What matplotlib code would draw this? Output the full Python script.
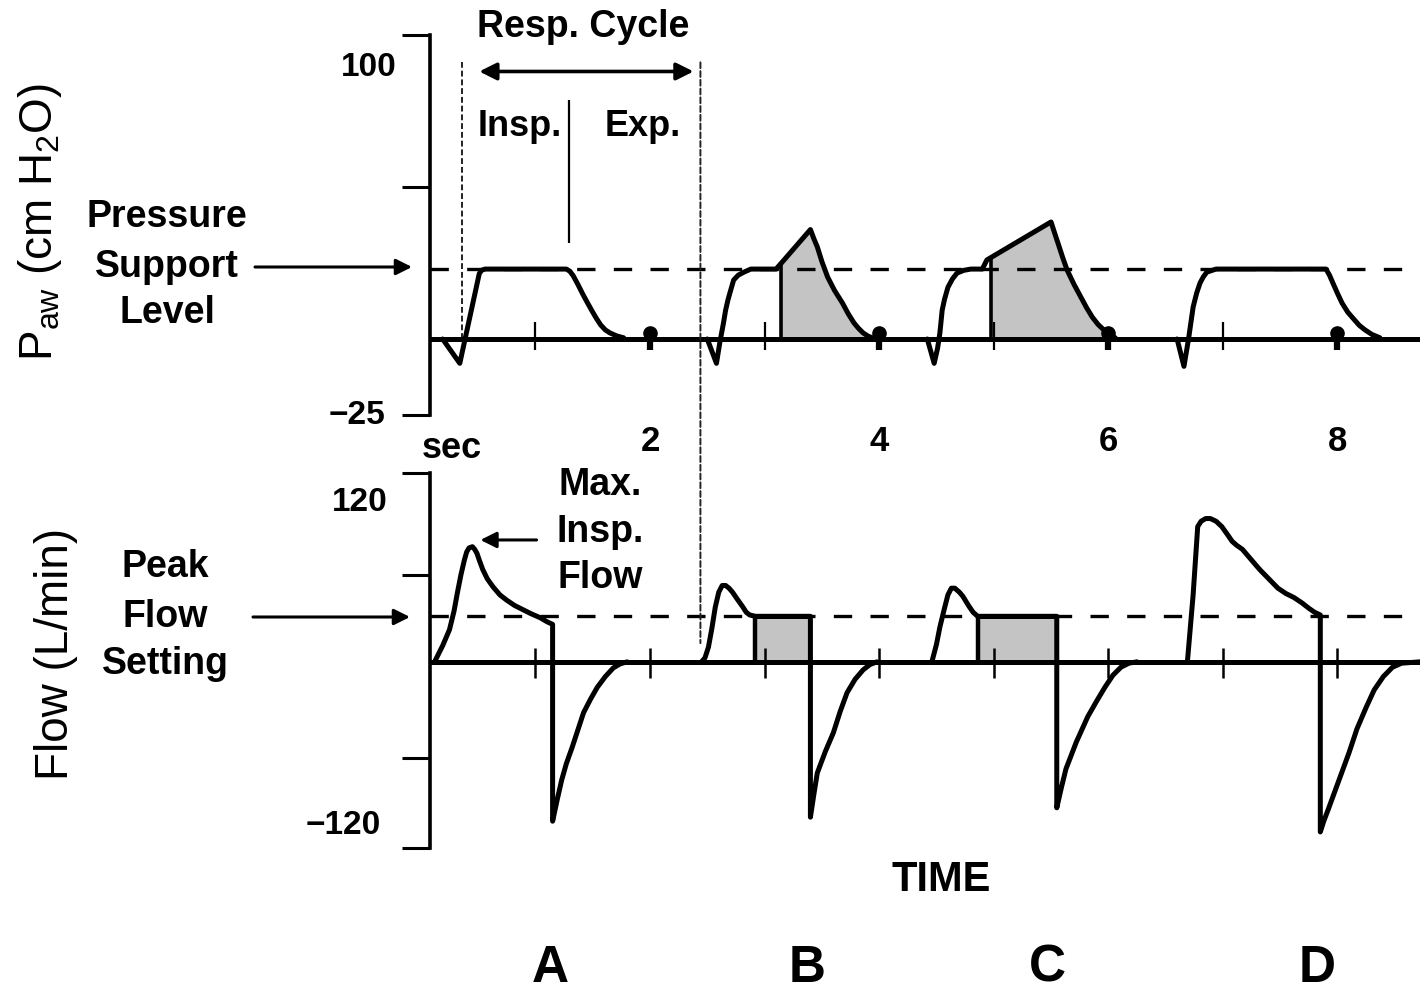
import matplotlib
matplotlib.use('Agg')
import matplotlib.pyplot as plt
from matplotlib.patches import ConnectionPatch
import numpy as np

plt.rcParams['font.family'] = ['Liberation Sans', 'DejaVu Sans']
plt.rcParams['mathtext.fontset'] = 'custom'
plt.rcParams['mathtext.rm'] = 'Liberation Sans'
plt.rcParams['mathtext.it'] = 'Liberation Sans'
plt.rcParams['mathtext.default'] = 'regular'

# ---------------- data (time in sec) ----------------
# Airway pressure (cm H2O), four breaths A-D
pA_t = [0.19, 0.34, 0.51, 0.53, 0.56, 1.27, 1.30, 1.33, 1.37, 1.41, 1.45, 1.49, 1.53, 1.57, 1.61, 1.65, 1.71, 1.77]
pA_p = [0, -8, 21.5, 22.6, 23, 23, 22.3, 20.8, 18, 15, 12.2, 9.5, 6.9, 4.6, 3, 2, 1, 0.4]
pB_t = [2.50, 2.58, 2.61, 2.64, 2.66, 2.68, 2.70, 2.73, 2.77, 2.82, 2.88, 3.10, 3.14, 3.40,
        3.43, 3.46, 3.50, 3.55, 3.61, 3.68, 3.73, 3.78, 3.82, 3.86, 3.90, 3.94]
pB_p = [0, -8, -1, 5, 9.5, 12.8, 15.5, 19.4, 21, 22, 23, 23, 24.7, 36,
        33, 30.3, 25.5, 20.4, 16, 11.8, 8.3, 5.3, 3.5, 2, 1, 0.4]
pC_t = [4.42, 4.48, 4.51, 4.53, 4.55, 4.57, 4.60, 4.64, 4.68, 4.74, 4.80, 4.90, 4.94, 4.98, 5.50,
        5.53, 5.56, 5.60, 5.64, 5.70, 5.76, 5.81, 5.86, 5.91, 5.96, 6.01, 6.06]
pC_p = [0, -8, -3, 2, 9.5, 13, 17, 19.8, 21.7, 22.6, 23, 23, 26, 26.9, 38.5,
        35, 31.6, 27, 22.7, 18, 13.8, 10.3, 7.2, 4.8, 3, 1.5, 0.4]
pD_t = [6.60, 6.66, 6.70, 6.74, 6.77, 6.80, 6.83, 6.86, 6.94, 7.90, 7.93, 7.96, 8.00, 8.04,
        8.09, 8.15, 8.19, 8.24, 8.30, 8.37]
pD_p = [0, -9, 0, 10.5, 15, 18.4, 20.5, 22, 23, 23, 21, 18.4, 15, 11.8,
        8.8, 6.2, 4.5, 3, 1.5, 0.4]
pB_shade_start = 3.14
pC_shade_start = 4.98

# Flow (L/min)
fA_t = [0.12, 0.19, 0.25, 0.29, 0.32, 0.35, 0.38, 0.40, 0.42, 0.45, 0.47, 0.49, 0.51, 0.54, 0.58,
        0.63, 0.69, 0.75, 0.82, 0.89, 0.96, 1.04, 1.10, 1.15,
        1.15, 1.19, 1.23, 1.27, 1.32, 1.37, 1.42, 1.48, 1.54, 1.61, 1.68, 1.74, 1.80]
fA_f = [0, 12, 24, 38, 52, 65, 76, 82, 85, 86, 84, 81, 76, 69, 62,
        56, 50, 46, 42, 39, 36, 33, 30, 28,
        -119, -103, -88, -76, -64, -51, -38, -28, -19, -11, -4.5, -1.5, 0]
fB_t = [2.45, 2.48, 2.51, 2.54, 2.57, 2.60, 2.63, 2.66, 2.69, 2.72, 2.76, 2.81, 2.84, 2.87, 2.92, 3.40,
        3.40, 3.43, 3.46, 3.53, 3.60, 3.66, 3.72, 3.79, 3.86, 3.92, 3.98]
fB_f = [0, 3, 11, 25, 41, 52, 57, 57, 55, 52, 47, 41, 37, 35, 34, 34,
        -116, -99, -83, -67, -53, -37, -23, -13, -6, -2, 0]
fC_t = [4.46, 4.50, 4.53, 4.57, 4.60, 4.63, 4.66, 4.70, 4.73, 4.78, 4.82, 4.86, 5.55,
        5.55, 5.59, 5.63, 5.72, 5.82, 5.90, 5.97, 6.04, 6.11, 6.18, 6.25]
fC_f = [0, 13, 26, 40, 50, 55, 55, 52, 49, 42, 37, 34, 34,
        -109, -94, -80, -60, -41, -29, -19, -10, -4, -1, 0]
fD_t = [6.69, 6.74, 6.78, 6.81, 6.85, 6.89, 6.94, 6.99, 7.04, 7.08, 7.12, 7.17, 7.24, 7.32, 7.40,
        7.48, 7.55, 7.62, 7.69, 7.75, 7.80, 7.85,
        7.85, 7.88, 7.92, 8.01, 8.10, 8.17, 8.25, 8.32, 8.40, 8.48, 8.56, 8.72]
fD_f = [0, 50, 101, 105, 107, 107, 105, 101, 95, 90, 87, 84, 77, 69, 62,
        55, 51, 48, 44, 40, 37, 35,
        -127, -119, -110, -89, -68, -50, -34, -21, -11, -4, -1, 0]
fB_box = [2.92, 3.40]
fC_box = [4.86, 5.55]

ps_level = 23          # pressure support level
peak_flow = 34         # peak flow setting
resp_cycle = [0.36, 2.44]
insp_end = 1.29
time_ticks = [2, 4, 6, 8]
minor_sec = [1, 3, 5, 7]
flow_secs = [1, 2, 3, 4, 5, 6, 7, 8]
p_ticks = [100, 50, -25]
f_ticks = [141, 65, -72, -139]
breath_labels = ['A', 'B', 'C', 'D']

# ---------------- figure ----------------
W, H = 1420, 993
fig = plt.figure(figsize=(W / 100, H / 100), dpi=100)
def fx(x): return x / W
def fy(y): return 1 - y / H

X0, X1 = 0.08, 8.72
ax1 = fig.add_axes([fx(430), fy(415), fx(1420) - fx(430), fy(35) - fy(415)])
ax2 = fig.add_axes([fx(430), fy(848), fx(1420) - fx(430), fy(473) - fy(848)])
ax1.set_xlim(X0, X1); ax1.set_ylim(-25, 100)
ax2.set_xlim(X0, X1); ax2.set_ylim(-139, 141)

for ax in (ax1, ax2):
    for s in ('top', 'right', 'bottom'):
        ax.spines[s].set_visible(False)
    ax.spines['left'].set_linewidth(2.6)
    ax.tick_params(axis='y', direction='out', length=20, width=2.2, labelleft=False)
    ax.patch.set_alpha(0)

ax1.set_yticks(p_ticks)
ax2.set_yticks(f_ticks)
ax1.set_xticks(time_ticks)
ax1.set_xticklabels([str(v) for v in time_ticks], fontsize=25, fontweight='bold')
ax1.tick_params(axis='x', length=0, pad=7)
ax2.set_xticks([])

LW = 3.6
# baselines
ax1.axhline(0, color='k', lw=LW, zorder=3)
ax2.axhline(0, color='k', lw=LW, zorder=3)
# dashed set levels
ax1.axhline(ps_level, color='k', lw=2.4, dashes=(5.5, 5.5), zorder=2)
ax2.axhline(peak_flow, color='k', lw=2.4, dashes=(5.5, 5.5), zorder=2)

# second ticks
ax1.vlines(minor_sec, -3.6, 5.6, color='k', lw=1.6, zorder=4)
ax1.vlines(time_ticks, -3.5, 1.5, color='k', lw=4.5, zorder=4)
ax1.plot(time_ticks, [2.0] * len(time_ticks), 'o', color='k', ms=9.5, zorder=4)
ax2.vlines(flow_secs, -12, 10, color='k', lw=1.8, zorder=4)

# shading (pressure)
SH = '#c4c4c4'
for tt, pp, s0 in ((pB_t, pB_p, pB_shade_start), (pC_t, pC_p, pC_shade_start)):
    t = np.array(tt); p = np.array(pp)
    m = t >= s0
    ax1.fill_between(t[m], p[m], 0, color=SH, lw=0, zorder=1)
    ax1.vlines(s0, 0, np.interp(s0, t, p), color='k', lw=2.6, zorder=5)

# shading (flow boxes)
for b in (fB_box, fC_box):
    ax2.fill_between(b, [peak_flow, peak_flow], 0, color=SH, lw=0, zorder=1)
    ax2.vlines(b[0], 0, peak_flow, color='k', lw=3.2, zorder=5)
    ax2.hlines(peak_flow, b[0], b[1], color='k', lw=LW, zorder=5)

# waveforms
for tt, pp in ((pA_t, pA_p), (pB_t, pB_p), (pC_t, pC_p), (pD_t, pD_p)):
    ax1.plot(tt, pp, color='k', lw=LW, solid_joinstyle='round', solid_capstyle='round', zorder=6)
for tt, ff in ((fA_t, fA_f), (fB_t, fB_f), (fC_t, fC_f), (fD_t, fD_f)):
    ax2.plot(tt, ff, color='k', lw=LW, solid_joinstyle='round', solid_capstyle='round', zorder=6)

# respiratory cycle markers
ax1.vlines(resp_cycle[0], 0, 91, color='#222', lw=1.4, linestyles=(0, (3, 1.5)), zorder=2)
con = ConnectionPatch(xyA=(resp_cycle[1], 91), coordsA=ax1.transData,
                      xyB=(resp_cycle[1], 14), coordsB=ax2.transData,
                      color='#222', lw=1.4, linestyle=(0, (3, 1.5)))
fig.add_artist(con)
ax1.vlines(insp_end, 31.6, 78.6, color='k', lw=1.6, zorder=2)
ax1.annotate('', xy=(0.51, 88), xytext=(2.38, 88),
             arrowprops=dict(arrowstyle='<|-|>', lw=2.6, color='k', mutation_scale=26,
                             shrinkA=0, shrinkB=0), annotation_clip=False)
ax1.text(1.42, 102.5, 'Resp. Cycle', ha='center', va='center', fontsize=27,
         fontweight='bold', clip_on=False)
ax1.text(0.86, 70, 'Insp.', ha='center', va='center', fontsize=26, fontweight='bold')
ax1.text(1.94, 70, 'Exp.', ha='center', va='center', fontsize=26, fontweight='bold')
fig.text(fx(452), fy(449), 'sec', ha='center', va='center', fontsize=26, fontweight='bold')

# max insp flow
ax2.annotate('', xy=(0.52, 91), xytext=(1.01, 91),
             arrowprops=dict(arrowstyle='-|>', lw=2.2, color='k', mutation_scale=24,
                             shrinkA=0, shrinkB=0))
for yy, s in ((485, 'Max.'), (532, 'Insp.'), (578, 'Flow')):
    fig.text(fx(600), fy(yy), s, ha='center', va='center', fontsize=27, fontweight='bold')

# y labels
fig.text(fx(397), fy(68), '100', ha='right', va='center', fontsize=24, fontweight='bold')
fig.text(fx(385), fy(415), '\u221225', ha='right', va='center', fontsize=24, fontweight='bold')
fig.text(fx(388), fy(502), '120', ha='right', va='center', fontsize=24, fontweight='bold')
fig.text(fx(381), fy(825), '\u2212120', ha='right', va='center', fontsize=24, fontweight='bold')
fig.text(fx(40), fy(222), r'P$_{aw}$ (cm H$_2$O)', rotation=90, ha='center', va='center', fontsize=33)
fig.text(fx(56), fy(654), 'Flow (L/min)', rotation=90, ha='center', va='center', fontsize=33)

for yy, s in ((217, 'Pressure'), (267, 'Support'), (313, 'Level')):
    fig.text(fx(167), fy(yy), s, ha='center', va='center', fontsize=27, fontweight='bold')
for yy, s in ((567, 'Peak'), (617, 'Flow'), (664, 'Setting')):
    fig.text(fx(165), fy(yy), s, ha='center', va='center', fontsize=27, fontweight='bold')

ax1.annotate('', xy=(fx(412), fy(267)), xytext=(fx(255), fy(267)), xycoords='figure fraction',
             textcoords='figure fraction',
             arrowprops=dict(arrowstyle='-|>', lw=2.2, color='k', mutation_scale=24, shrinkA=0, shrinkB=0))
ax2.annotate('', xy=(fx(410), fy(617)), xytext=(fx(253), fy(617)), xycoords='figure fraction',
             textcoords='figure fraction',
             arrowprops=dict(arrowstyle='-|>', lw=2.2, color='k', mutation_scale=24, shrinkA=0, shrinkB=0))

fig.text(fx(941), fy(880), 'TIME', ha='center', va='center', fontsize=30, fontweight='bold')
for xx, s in zip((550, 807, 1047, 1317), breath_labels):
    fig.text(fx(xx), fy(968), s, ha='center', va='center', fontsize=37, fontweight='bold')

fig.savefig('out.png', dpi=100, facecolor='white')
